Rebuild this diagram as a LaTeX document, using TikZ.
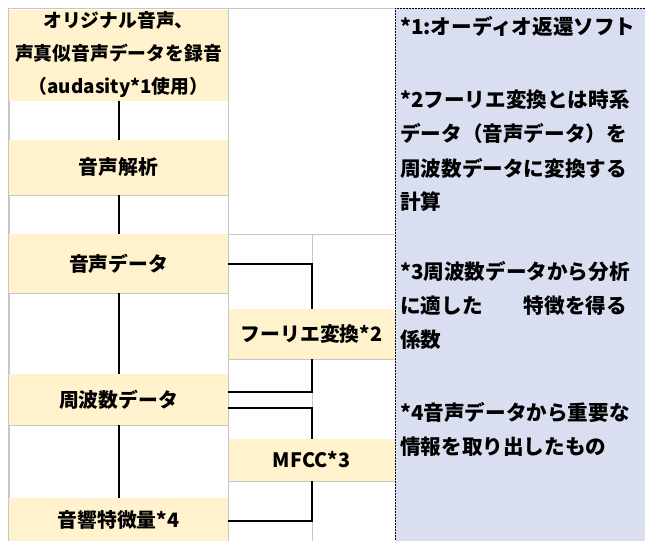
\documentclass[tikz,border=0pt]{standalone}
\usepackage{fontspec}
\setmainfont{Noto Sans CJK JP}
\definecolor{beige}{HTML}{FFF2CC}
\definecolor{notebg}{HTML}{D9DFF1}
\definecolor{gridgray}{HTML}{C6C6C6}
\tikzset{
  cellb/.style={rectangle, fill=beige, inner sep=0pt, text=black, align=center,
    font=\bfseries\fontsize{19.8}{33}\selectfont},
  grid/.style={draw=gridgray, line width=0.9pt},
  conn/.style={draw=black, line width=2pt},
  notetxt/.style={anchor=west, inner sep=0pt, text=black,
    font=\bfseries\fontsize{20.6}{34}\selectfont},
  notebox/.style={draw=black, line width=1pt, dash pattern=on 1.6pt off 1.4pt}
}
\begin{document}
\begin{tikzpicture}[x=1pt,y=-1pt]
\useasboundingbox (0,0) rectangle (670,541);
\fill[white] (0,0) rectangle (670,541);
% grid of white cells
\draw[grid] (9,100) rectangle (228,140);
\draw[grid] (9,195) rectangle (228,234);
\draw[grid] (9,293) rectangle (228,374);
\draw[grid] (9,425) rectangle (228,498);
\draw[grid] (228,8.5) rectangle (395,234);
\draw[grid] (228,234) rectangle (312,309);
\draw[grid] (312,234) rectangle (395,309);
\draw[grid] (228,359) rectangle (312,439);
\draw[grid] (312,359) rectangle (395,439);
\draw[grid] (228,481) rectangle (312,541);
\draw[grid] (312,481) rectangle (395,541);
% beige cells
\node[cellb, minimum width=219pt, minimum height=91pt,
  font=\bfseries\fontsize{18.8}{33}\selectfont] (rec) at (118.5,55)
  {オリジナル音声、\\声真似音声データを録音\\（audasity*1使用）};
\node[cellb, minimum width=219pt, minimum height=55pt] (ana) at (118.5,167.5) {音声解析};
\node[cellb, minimum width=219pt, minimum height=59pt] (sd) at (118.5,263.5) {音声データ};
\node[cellb, minimum width=219pt, minimum height=51pt] (fd) at (118.5,399.5) {周波数データ};
\node[cellb, minimum width=219pt, minimum height=43pt] (ak) at (118.5,519.5) {音響特微量*4};
\node[cellb, minimum width=166pt, minimum height=50pt] (ft) at (311.5,334) {フーリエ変換*2};
\node[cellb, minimum width=166pt, minimum height=42pt] (mf) at (311.5,460) {MFCC*3};
% outer light border of the left column
\draw[grid] (8.5,541) -- (8.5,8.5) -- (228,8.5);
% connectors
\draw[conn] (rec.south) -- (ana.north);
\draw[conn] (ana.south) -- (sd.north);
\draw[conn] (sd.south) -- (fd.north);
\draw[conn] (fd.south) -- (ak.north);
\draw[conn] (sd.east) -| (ft.north);
\draw[conn] (ft.south) |- ([yshift=7.5pt]fd.east);
\draw[conn] ([yshift=-8.5pt]fd.east) -| (mf.north);
\draw[conn] (mf.south) |- ([yshift=-1.5pt]ak.east);
% notes panel
\fill[notebg] (395,8) rectangle (645,541);
\draw[notebox] (645,8) -- (395,8) -- (395,541);
\node[notetxt] (l1) at (400,26) {*1:オーディオ返還ソフト};
\node[notetxt] (l2) at (400,100) {*2フーリエ変換とは時系};
\node[notetxt] (l3) at (400,134) {データ（音声データ）を};
\node[notetxt] (l4) at (400,168) {周波数データに変換する};
\node[notetxt] (l5) at (400,202) {計算};
\node[notetxt] (l6) at (400,272) {*3周波数データから分析};
\node[notetxt] (l7) at (400,306) {に適した　　特徴を得る};
\node[notetxt] (l8) at (400,340) {係数};
\node[notetxt] (l9) at (400,412) {*4音声データから重要な};
\node[notetxt] (l10) at (400,447) {情報を取り出したもの};
\end{tikzpicture}
\end{document}
